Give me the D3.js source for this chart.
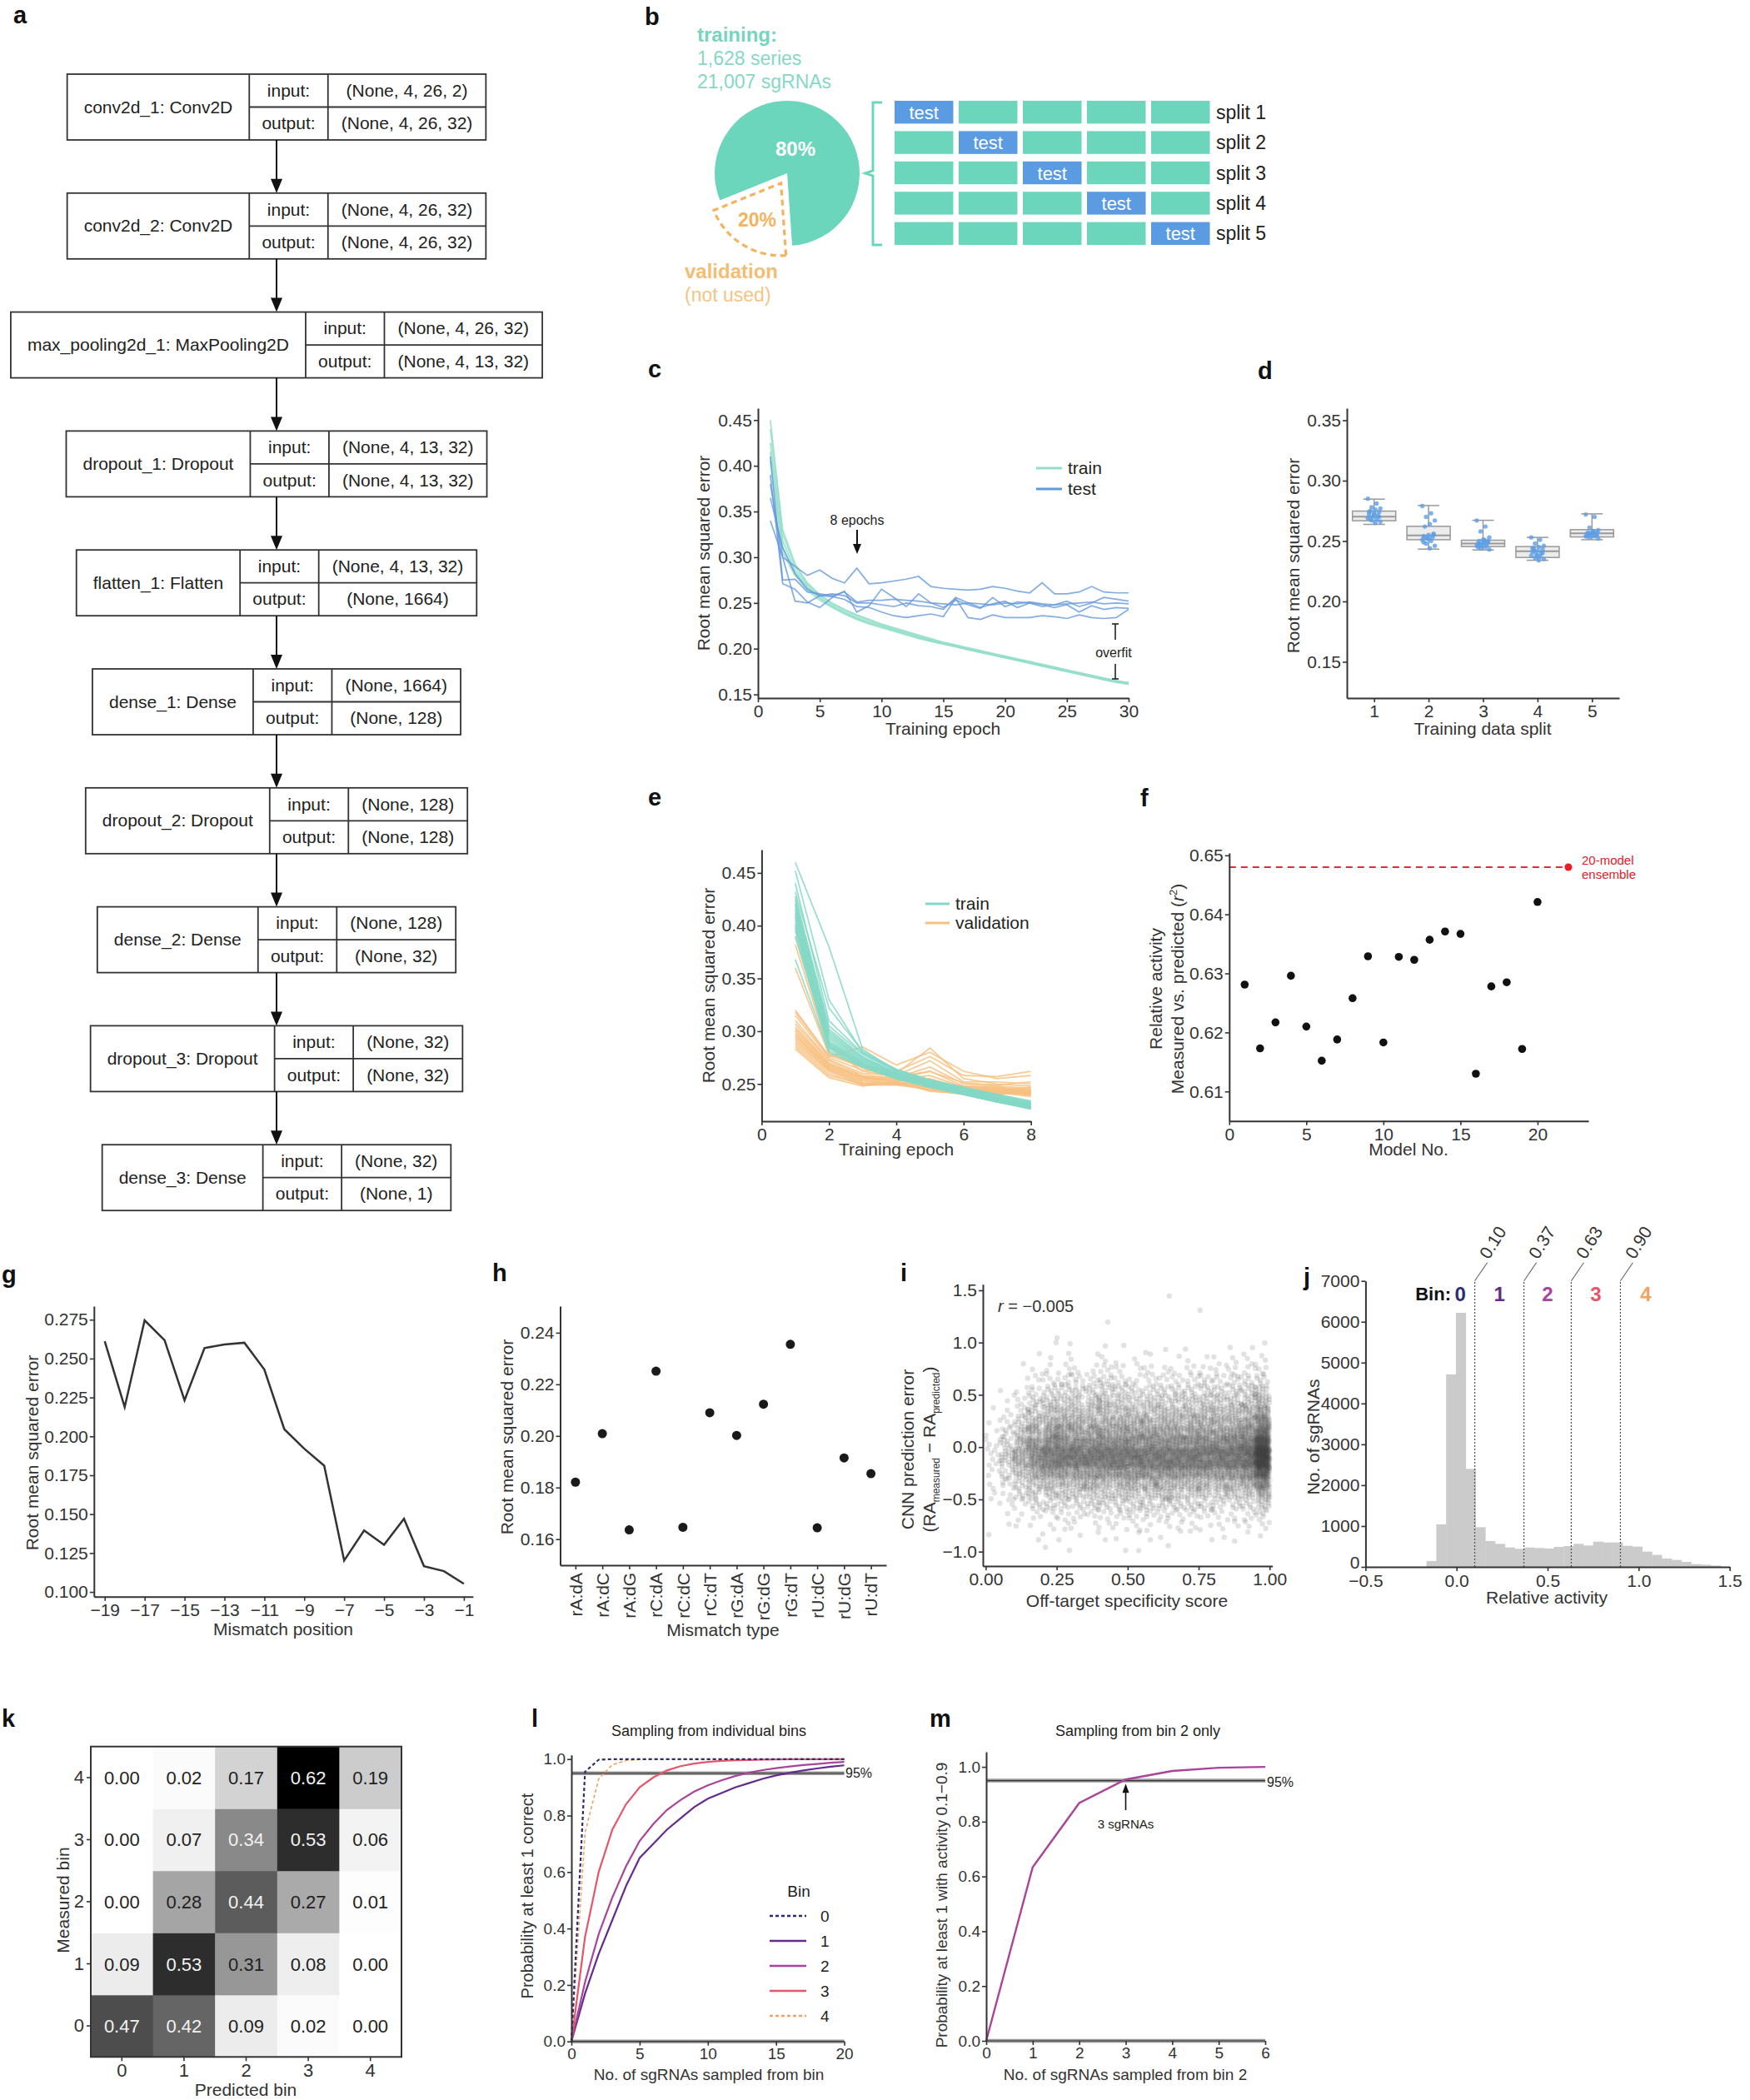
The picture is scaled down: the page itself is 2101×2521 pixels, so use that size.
<!DOCTYPE html>
<html><head><meta charset="utf-8">
<script src="https://cdn.jsdelivr.net/npm/d3@7"></script>
<style>body{margin:0;background:#fff}svg{display:block}</style>
</head><body>
<svg id="fig" width="2101" height="2521"></svg>
<script>
// ================= DATA =================
// a: network layers
const aLayers = ['conv2d_1: Conv2D','conv2d_2: Conv2D','max_pooling2d_1: MaxPooling2D','dropout_1: Dropout','flatten_1: Flatten','dense_1: Dense','dropout_2: Dropout','dense_2: Dense','dropout_3: Dropout','dense_3: Dense'];
const aInputs = ['(None, 4, 26, 2)','(None, 4, 26, 32)','(None, 4, 26, 32)','(None, 4, 13, 32)','(None, 4, 13, 32)','(None, 1664)','(None, 128)','(None, 128)','(None, 32)','(None, 32)'];
const aOutputs = ['(None, 4, 26, 32)','(None, 4, 26, 32)','(None, 4, 13, 32)','(None, 4, 13, 32)','(None, 1664)','(None, 128)','(None, 128)','(None, 32)','(None, 32)','(None, 1)'];
// b: data split
const bShares = [80, 20];
const bSplits = ['split 1','split 2','split 3','split 4','split 5'];
const bTestIdx = [0,1,2,3,4];
// c: training curves (5-fold)
const cEpochs = [1,2,3,4,5,6,7,8,9,10,11,12,13,14,15,16,17,18,19,20,21,22,23,24,25,26,27,28,29,30];
const cTrain = [
 [0.450,0.330,0.293,0.272,0.259,0.250,0.243,0.237,0.232,0.227,0.223,0.219,0.215,0.211,0.207,0.204,0.201,0.198,0.195,0.192,0.189,0.186,0.183,0.180,0.177,0.174,0.171,0.168,0.165,0.163],
 [0.440,0.325,0.290,0.270,0.258,0.249,0.242,0.236,0.231,0.226,0.222,0.218,0.214,0.210,0.207,0.204,0.200,0.197,0.194,0.191,0.188,0.185,0.182,0.179,0.176,0.173,0.170,0.167,0.164,0.162],
 [0.425,0.318,0.286,0.268,0.256,0.247,0.240,0.234,0.229,0.225,0.221,0.217,0.213,0.209,0.206,0.203,0.200,0.197,0.194,0.191,0.188,0.185,0.182,0.179,0.176,0.173,0.170,0.167,0.165,0.162],
 [0.415,0.312,0.283,0.266,0.255,0.246,0.239,0.233,0.228,0.224,0.220,0.216,0.212,0.208,0.205,0.202,0.199,0.196,0.193,0.190,0.187,0.184,0.181,0.178,0.175,0.172,0.169,0.166,0.163,0.161],
 [0.405,0.305,0.280,0.264,0.253,0.245,0.238,0.232,0.227,0.223,0.219,0.215,0.211,0.208,0.205,0.202,0.199,0.196,0.193,0.190,0.187,0.184,0.181,0.178,0.175,0.172,0.169,0.166,0.164,0.161]];
const cTest = [
 [0.340,0.300,0.290,0.280,0.286,0.277,0.272,0.288,0.271,0.272,0.274,0.276,0.279,0.268,0.266,0.265,0.264,0.265,0.268,0.266,0.263,0.261,0.272,0.260,0.260,0.262,0.268,0.262,0.261,0.261],
 [0.410,0.275,0.276,0.262,0.260,0.258,0.262,0.251,0.253,0.253,0.254,0.253,0.252,0.250,0.249,0.248,0.250,0.249,0.248,0.250,0.249,0.251,0.249,0.248,0.249,0.250,0.251,0.249,0.250,0.249],
 [0.390,0.271,0.265,0.251,0.245,0.256,0.263,0.240,0.247,0.265,0.256,0.246,0.260,0.250,0.245,0.253,0.248,0.244,0.256,0.246,0.251,0.250,0.246,0.248,0.252,0.246,0.250,0.256,0.254,0.252],
 [0.380,0.300,0.252,0.250,0.258,0.257,0.254,0.246,0.245,0.240,0.236,0.234,0.236,0.238,0.235,0.255,0.234,0.232,0.237,0.234,0.234,0.234,0.236,0.235,0.233,0.237,0.234,0.233,0.234,0.243],
 [0.365,0.310,0.282,0.265,0.258,0.260,0.258,0.250,0.250,0.248,0.246,0.250,0.247,0.246,0.243,0.256,0.250,0.245,0.249,0.252,0.245,0.250,0.248,0.245,0.248,0.240,0.247,0.243,0.245,0.244]];
// d: RMSE per split
const dSplits = [1,2,3,4,5];
const dQ1  = [0.2668,0.2511,0.2454,0.2364,0.2534];
const dMed = [0.2702,0.2546,0.2480,0.2415,0.2564];
const dQ3  = [0.2748,0.2622,0.2507,0.2454,0.2594];
const dLo  = [0.2638,0.2433,0.2426,0.2341,0.2511];
const dHi  = [0.2847,0.2794,0.2672,0.2530,0.2725];
const dPoints = [
 [0.285,0.281,0.278,0.277,0.276,0.275,0.274,0.273,0.272,0.271,0.270,0.269,0.268,0.267,0.266,0.265,0.268,0.270,0.272,0.274],
 [0.279,0.273,0.270,0.267,0.264,0.262,0.256,0.255,0.254,0.253,0.252,0.251,0.250,0.248,0.246,0.244,0.253,0.255,0.252,0.249],
 [0.267,0.262,0.258,0.253,0.251,0.250,0.249,0.248,0.248,0.247,0.246,0.246,0.245,0.244,0.243,0.249,0.247,0.250,0.251,0.245],
 [0.253,0.251,0.248,0.246,0.245,0.244,0.243,0.242,0.241,0.240,0.239,0.238,0.237,0.236,0.235,0.234,0.242,0.240,0.238,0.244],
 [0.272,0.270,0.261,0.259,0.258,0.257,0.257,0.256,0.256,0.255,0.255,0.254,0.254,0.253,0.252,0.258,0.256,0.255,0.257,0.254]];
// e: 20 models, 8 epochs
const eEpochs = [1,2,3,4,5,6,7,8];
const eTrain = [
 [0.460,0.380,0.283,0.262,0.253,0.246,0.239,0.232],[0.452,0.330,0.280,0.263,0.254,0.246,0.240,0.233],
 [0.432,0.322,0.281,0.264,0.254,0.247,0.240,0.234],[0.428,0.305,0.278,0.262,0.252,0.245,0.238,0.231],
 [0.425,0.302,0.276,0.261,0.252,0.245,0.238,0.230],[0.422,0.300,0.275,0.260,0.251,0.244,0.237,0.230],
 [0.420,0.298,0.274,0.260,0.251,0.244,0.237,0.231],[0.418,0.296,0.273,0.259,0.250,0.243,0.236,0.229],
 [0.415,0.294,0.272,0.259,0.250,0.243,0.236,0.229],[0.412,0.292,0.271,0.258,0.250,0.243,0.236,0.228],
 [0.410,0.290,0.270,0.258,0.249,0.242,0.235,0.229],[0.408,0.289,0.270,0.257,0.249,0.242,0.235,0.228],
 [0.405,0.288,0.269,0.257,0.249,0.242,0.235,0.229],[0.402,0.287,0.268,0.256,0.248,0.241,0.234,0.227],
 [0.400,0.286,0.268,0.256,0.248,0.241,0.234,0.228],[0.398,0.285,0.267,0.256,0.248,0.241,0.234,0.227],
 [0.395,0.284,0.267,0.255,0.247,0.240,0.233,0.227],[0.390,0.282,0.266,0.255,0.247,0.240,0.233,0.226],
 [0.368,0.280,0.266,0.255,0.247,0.240,0.233,0.227],[0.440,0.310,0.279,0.263,0.253,0.246,0.239,0.232]];
const eVal = [
 [0.390,0.285,0.262,0.258,0.250,0.246,0.244,0.242],[0.382,0.280,0.265,0.255,0.252,0.248,0.246,0.244],
 [0.360,0.278,0.268,0.260,0.284,0.255,0.250,0.248],[0.320,0.276,0.285,0.268,0.280,0.262,0.255,0.258],
 [0.315,0.275,0.263,0.262,0.276,0.258,0.257,0.262],[0.310,0.273,0.260,0.258,0.272,0.252,0.252,0.250],
 [0.307,0.272,0.258,0.256,0.266,0.250,0.248,0.246],[0.304,0.270,0.257,0.255,0.262,0.248,0.247,0.244],
 [0.302,0.269,0.256,0.254,0.258,0.247,0.246,0.243],[0.300,0.268,0.256,0.253,0.255,0.246,0.245,0.242],
 [0.298,0.267,0.255,0.253,0.252,0.245,0.244,0.241],[0.296,0.266,0.254,0.252,0.250,0.244,0.243,0.240],
 [0.295,0.265,0.253,0.251,0.249,0.244,0.242,0.241],[0.293,0.264,0.252,0.251,0.248,0.243,0.244,0.239],
 [0.291,0.263,0.251,0.250,0.247,0.242,0.241,0.240],[0.289,0.262,0.250,0.250,0.246,0.242,0.242,0.238],
 [0.287,0.260,0.249,0.249,0.245,0.241,0.240,0.243],[0.285,0.258,0.250,0.251,0.244,0.240,0.241,0.245],
 [0.283,0.256,0.248,0.252,0.243,0.241,0.243,0.247],[0.318,0.277,0.266,0.257,0.262,0.251,0.249,0.252]];
// f: per-model r^2
const fModels = [1,2,3,4,5,6,7,8,9,10,11,12,13,14,15,16,17,18,19,20];
const fR2 = [0.6281,0.6173,0.6217,0.6296,0.6210,0.6152,0.6188,0.6258,0.6329,0.6183,0.6328,0.6323,0.6357,0.6371,0.6367,0.6130,0.6278,0.6285,0.6172,0.6421];
const fEnsemble = {model: 22, r2: 0.648};
// g: RMSE by mismatch position
const gPos = [-19,-18,-17,-16,-15,-14,-13,-12,-11,-10,-9,-8,-7,-6,-5,-4,-3,-2,-1];
const gRmse = [0.2612,0.2188,0.2746,0.2618,0.2232,0.2568,0.2591,0.2602,0.2430,0.2046,0.1921,0.1812,0.1202,0.1395,0.1303,0.1470,0.1166,0.1134,0.1053];
const gTicks = [-19,-17,-15,-13,-11,-9,-7,-5,-3,-1];
// h: RMSE by mismatch type
const hTypes = ['rA:dA','rA:dC','rA:dG','rC:dA','rC:dC','rC:dT','rG:dA','rG:dG','rG:dT','rU:dC','rU:dG','rU:dT'];
const hRmse = [0.1821,0.2009,0.1636,0.2251,0.1646,0.2090,0.2002,0.2123,0.2355,0.1644,0.1915,0.1854];
// i: density of points (columns: specificity 0-1 in 0.05 bins; rows: error 1.5 down to -1.1 in 0.1 bins)
const iXBin = {start: 0, step: 0.05};
const iYBin = {top: 1.5, step: 0.1};
const iDensity = [
 [0,0,0,0,0,0,0,0,0,0,0,1,1,2,3,4,4,3,2,2,1,0,0,1,0,0],
 [0,0,0,0,0,0,0,0,0,1,1,2,4,6,9,11,10,8,5,3,2,1,1,0,0,0],
 [0,0,0,0,0,0,0,1,1,2,4,6,9,13,18,22,20,14,9,6,3,2,1,0,0,0],
 [0,0,0,0,0,0,1,1,3,5,8,11,15,20,27,34,32,22,14,11,7,3,1,1,0,0],
 [0,0,0,0,0,1,1,2,4,7,10,14,19,25,33,42,40,27,16,12,8,3,2,1,1,0],
 [0,0,0,0,1,1,1,3,5,8,11,15,20,26,34,44,42,28,17,11,7,4,2,1,1,0],
 [0,0,0,0,0,0,1,3,5,8,11,15,20,26,34,44,42,28,17,11,7,4,2,1,0,0],
 [0,0,0,0,0,0,1,2,5,9,12,15,19,25,33,44,43,29,18,12,8,4,2,1,0,0],
 [0,0,0,1,0,1,2,4,7,10,13,16,20,26,34,44,43,29,17,12,8,4,2,1,0,0],
 [0,0,0,0,0,1,1,3,5,8,11,15,20,26,34,45,43,29,18,12,8,5,2,1,1,0],
 [0,0,0,0,0,0,1,2,4,7,10,14,19,25,33,44,43,30,19,13,9,5,3,1,1,0],
 [0,0,0,0,0,1,1,3,4,7,10,14,19,25,33,44,43,30,19,13,9,5,2,1,0,0],
 [1,0,0,0,0,1,0,2,4,7,10,14,19,25,33,44,44,30,19,13,9,5,3,1,1,0],
 [0,0,0,0,0,0,1,2,4,7,10,14,19,25,33,44,44,30,19,12,8,4,2,1,0,0],
 [0,0,0,0,0,1,1,3,5,8,11,14,19,25,33,44,43,29,18,12,8,4,2,1,0,0],
 [0,1,0,0,0,0,1,3,5,8,11,15,19,25,34,45,43,28,17,11,7,4,2,1,0,0],
 [0,0,0,0,0,0,1,3,5,8,11,15,20,26,35,46,44,28,17,11,7,3,2,1,0,0],
 [0,0,0,0,0,1,2,3,6,9,12,16,21,28,37,48,46,30,18,12,7,3,2,1,0,0],
 [0,0,0,0,0,1,2,4,6,10,13,18,24,32,42,55,52,34,20,13,8,4,2,1,0,0],
 [0,0,0,0,0,1,2,4,7,12,18,26,38,55,85,120,110,70,40,22,12,6,3,1,0,0]];
// j: histogram of relative activity
const jRange = [-0.165, 1.45];
const jCounts = [143,1040,4710,6218,2399,972,632,564,476,442,476,462,449,490,510,564,523,618,598,598,516,496,374,292,204,170,122,68,54,34];
const jCuts = [0.10,0.37,0.63,0.90];
const jCutLabels = ['0.10','0.37','0.63','0.90'];
const jBins = ['0','1','2','3','4'];
const binColors = ['#2e2c72','#642c8e','#a8449a','#e4566c','#f2a263'];
// k: confusion matrix (rows measured 4..0, cols predicted 0..4)
const kBins = [0,1,2,3,4];
const kMatrix = {
 4:[0.00,0.02,0.17,0.62,0.19],
 3:[0.00,0.07,0.34,0.53,0.06],
 2:[0.00,0.28,0.44,0.27,0.01],
 1:[0.09,0.53,0.31,0.08,0.00],
 0:[0.47,0.42,0.09,0.02,0.00]};
// l: probability at least 1 correct
const lN = [0,1,2,3,4,5,6,7,8,9,10,11,12,13,14,15,16,17,18,19,20];
const lBin0 = [0,0.955,0.998,1,1,1,1,1,1,1,1,1,1,1,1,1,1,1,1,1,1];
const lBin1 = [0,0.17,0.31,0.43,0.55,0.65,0.70,0.75,0.79,0.83,0.86,0.88,0.90,0.915,0.93,0.942,0.952,0.96,0.967,0.973,0.978];
const lBin2 = [0,0.21,0.38,0.51,0.62,0.71,0.77,0.82,0.855,0.885,0.907,0.925,0.94,0.952,0.961,0.968,0.974,0.979,0.983,0.987,0.99];
const lBin3 = [0,0.37,0.60,0.75,0.84,0.90,0.935,0.96,0.975,0.984,0.99,0.994,0.996,0.997,0.998,0.999,1,1,1,1,1];
const lBin4 = [0,0.74,0.93,0.98,0.995,0.999,1,1,1,1,1,1,1,1,1,1,1,1,1,1,1];
// m: sampling from bin 2
const mN = [0,1,2,3,4,5,6];
const mProb = [0,0.634,0.868,0.954,0.985,0.997,1.0];

// ================= DRAWING =================
const F = "'Liberation Sans', Arial, Helvetica, sans-serif";
const svg = d3.select('#fig').attr('font-family', F);
svg.append('rect').attr('width',2101).attr('height',2521).attr('fill','#fff');

function txt(g, x, y, s, o = {}) {
  const t = g.append('text').attr('x', x).attr('y', y).text(s)
    .attr('font-size', o.size || 20).attr('fill', o.fill || '#333')
    .attr('text-anchor', o.anchor || 'start');
  if (o.weight) t.attr('font-weight', o.weight);
  if (o.style) t.attr('font-style', o.style);
  if (o.rotate != null) t.attr('transform', `rotate(${o.rotate},${x},${y})`);
  return t;
}
function styleAxis(g, fs = 20, col = '#333', w = 2) {
  g.select('.domain').attr('stroke', col).attr('stroke-width', w);
  g.selectAll('.tick line').attr('stroke', '#333').attr('stroke-width', 1.6);
  g.selectAll('.tick text').attr('fill', '#333').attr('font-size', fs).attr('font-family', F);
}
function measure(s, size) {
  const t = svg.append('text').attr('font-size', size).attr('font-family', F).text(s);
  const w = t.node().getComputedTextLength(); t.remove(); return w;
}
function arrowDown(g, x, y1, y2, col = '#111', hw = 6, hl = 14) {
  g.append('line').attr('x1', x).attr('x2', x).attr('y1', y1).attr('y2', y2 - hl + 2).attr('stroke', col).attr('stroke-width', 2);
  g.append('path').attr('d', `M${x - hw},${y2 - hl}L${x + hw},${y2 - hl}L${x},${y2}Z`).attr('fill', col);
}
function arrowUp(g, x, y1, y2, col = '#111', hw = 5, hl = 12) {
  g.append('line').attr('x1', x).attr('x2', x).attr('y1', y1).attr('y2', y2 + hl - 2).attr('stroke', col).attr('stroke-width', 1.6);
  g.append('path').attr('d', `M${x - hw},${y2 + hl}L${x + hw},${y2 + hl}L${x},${y2}Z`).attr('fill', col);
}
// deterministic in-cell layout offset (not data)
function cellOffset(c, r) { const s = Math.sin(c * 12.9898 + r * 78.233) * 43758.5453; return s - Math.floor(s); }

// panel letters
[['a',16,28],['b',774,30],['c',778,453],['d',1510,455],['e',778,967],['f',1369,968],
 ['g',2,1540],['h',591,1538],['i',1081,1538],['j',1565,1543],['k',2,2073],['l',638,2073],['m',1116,2073]]
 .forEach(([s,x,y]) => txt(svg, x, y, s, {size: 29, weight: 'bold', fill: '#111'}));

// ----- Panel a -----
(function(){
  const g = svg.append('g');
  const top = d3.scalePoint().domain(d3.range(aLayers.length)).range([89, 89 + 9 * 142.8]);
  const cx = 332, H = 79, inW = 94.5, fs = 21;
  aLayers.forEach((name, i) => {
    const lw = measure(name, fs) + 40;
    const vw = Math.max(measure(aInputs[i], fs), measure(aOutputs[i], fs)) + 32;
    const W = lw + inW + vw, x0 = cx - W / 2, y0 = top(i);
    g.append('rect').attr('x', x0).attr('y', y0).attr('width', W).attr('height', H)
      .attr('fill', 'none').attr('stroke', '#333').attr('stroke-width', 1.8);
    [x0 + lw, x0 + lw + inW].forEach(x => g.append('line').attr('x1', x).attr('x2', x).attr('y1', y0).attr('y2', y0 + H).attr('stroke', '#333').attr('stroke-width', 1.8));
    g.append('line').attr('x1', x0 + lw).attr('x2', x0 + W).attr('y1', y0 + H / 2).attr('y2', y0 + H / 2).attr('stroke', '#333').attr('stroke-width', 1.8);
    txt(g, x0 + lw / 2, y0 + H / 2 + 7, name, {size: fs, anchor: 'middle', fill: '#222'});
    txt(g, x0 + lw + inW / 2, y0 + H / 4 + 7, 'input:', {size: fs, anchor: 'middle', fill: '#222'});
    txt(g, x0 + lw + inW / 2, y0 + 3 * H / 4 + 7, 'output:', {size: fs, anchor: 'middle', fill: '#222'});
    txt(g, x0 + lw + inW + vw / 2, y0 + H / 4 + 7, aInputs[i], {size: fs, anchor: 'middle', fill: '#222'});
    txt(g, x0 + lw + inW + vw / 2, y0 + 3 * H / 4 + 7, aOutputs[i], {size: fs, anchor: 'middle', fill: '#222'});
    if (i < aLayers.length - 1) arrowDown(g, cx, y0 + H, top(i + 1), '#111', 7, 17);
  });
})();

// ----- Panel b -----
(function(){
  const g = svg.append('g');
  const teal = '#6cd6bd', blue = '#5b9be2', orange = '#f5b35e';
  txt(g, 837, 50, 'training:', {size: 24, weight: 'bold', fill: '#78d4bd'});
  txt(g, 837, 78, '1,628 series', {size: 23, fill: '#86d8c5'});
  txt(g, 837, 106, '21,007 sgRNAs', {size: 23, fill: '#86d8c5'});
  const a0 = 248 * Math.PI / 180;
  const pie = d3.pie().sort(null).startAngle(a0).endAngle(a0 + 2 * Math.PI)(bShares);
  const arc = d3.arc().innerRadius(0).outerRadius(87);
  g.append('path').attr('transform', 'translate(945,208)').attr('d', arc(pie[0])).attr('fill', teal);
  const mid = (pie[1].startAngle + pie[1].endAngle) / 2, off = 14;
  g.append('path').attr('transform', `translate(${945 + off * Math.sin(mid)},${208 - off * Math.cos(mid)})`)
    .attr('d', arc(pie[1])).attr('fill', 'none').attr('stroke', orange).attr('stroke-width', 3.2).attr('stroke-dasharray', '7,5');
  txt(g, 955, 187, bShares[0] + '%', {size: 24, weight: 'bold', fill: '#fff', anchor: 'middle'});
  txt(g, 909, 272, bShares[1] + '%', {size: 23, weight: 'bold', fill: orange, anchor: 'middle'});
  txt(g, 822, 334, 'validation', {size: 24, weight: 'bold', fill: '#f3bd74'});
  txt(g, 822, 362, '(not used)', {size: 23, fill: '#f3c584'});
  g.append('path').attr('d', 'M1059,123 L1048,123 L1048,205 L1039,208 L1048,211 L1048,294 L1059,294')
    .attr('fill', 'none').attr('stroke', teal).attr('stroke-width', 3);
  const col = d3.scaleBand().domain(d3.range(5)).range([1074, 1452.5]).paddingInner(0.0845);
  const row = d3.scaleBand().domain(d3.range(5)).range([121, 294]).paddingInner(0.247);
  bSplits.forEach((s, r) => {
    d3.range(5).forEach(c => {
      const isTest = c === bTestIdx[r];
      g.append('rect').attr('x', col(c)).attr('y', row(r)).attr('width', col.bandwidth()).attr('height', row.bandwidth())
        .attr('fill', isTest ? blue : teal);
      if (isTest) txt(g, col(c) + col.bandwidth() / 2, row(r) + row.bandwidth() / 2 + 8, 'test', {size: 22, fill: '#fff', anchor: 'middle'});
    });
    txt(g, 1460, row(r) + row.bandwidth() / 2 + 8, s, {size: 23, fill: '#222'});
  });
})();

// ----- Panel c -----
(function(){
  const g = svg.append('g');
  const x = d3.scaleLinear().domain([0, 30]).range([910, 1355]);
  const y = d3.scaleLinear().domain([0.146, 0.463]).range([838, 490]);
  const line = d3.line().x((d, i) => x(cEpochs[i])).y(d => y(d));
  cTrain.forEach(s => g.append('path').attr('d', line(s)).attr('fill', 'none').attr('stroke', '#93dec9').attr('stroke-width', 1.7).attr('opacity', 0.85));
  cTest.forEach(s => g.append('path').attr('d', line(s)).attr('fill', 'none').attr('stroke', '#6499dc').attr('stroke-width', 1.7).attr('opacity', 0.8));
  g.append('g').attr('transform', 'translate(0,838)').call(d3.axisBottom(x).tickValues([0,5,10,15,20,25,30]).tickSize(5).tickPadding(3).tickSizeOuter(0)).call(styleAxis, 21);
  g.append('g').attr('transform', 'translate(910,0)').call(d3.axisLeft(y).tickValues([0.15,0.2,0.25,0.3,0.35,0.4,0.45]).tickFormat(d3.format('.2f')).tickSize(5).tickPadding(2).tickSizeOuter(0)).call(styleAxis, 21);
  txt(g, 852, 664, 'Root mean squared error', {size: 21, anchor: 'middle', rotate: -90});
  txt(g, 1132, 882, 'Training epoch', {size: 21, anchor: 'middle'});
  [['train', '#93dec9', 562], ['test', '#6499dc', 587]].forEach(([s, c, yy]) => {
    g.append('line').attr('x1', 1244).attr('x2', 1275).attr('y1', yy).attr('y2', yy).attr('stroke', c).attr('stroke-width', 3);
    txt(g, 1282, yy + 7, s, {size: 21, fill: '#222'});
  });
  txt(g, 1029, 630, '8 epochs', {size: 16, anchor: 'middle', fill: '#222'});
  arrowDown(g, 1029, 636, 665, '#111', 5, 12);
  txt(g, 1337, 789, 'overfit', {size: 16, anchor: 'middle', fill: '#222'});
  const bx = 1339;
  [[749, 768], [797, 815]].forEach(([a, b]) => g.append('line').attr('x1', bx).attr('x2', bx).attr('y1', a).attr('y2', b).attr('stroke', '#222').attr('stroke-width', 1.6));
  [749, 815].forEach(v => g.append('line').attr('x1', bx - 4).attr('x2', bx + 4).attr('y1', v).attr('y2', v).attr('stroke', '#222').attr('stroke-width', 1.6));
})();

// ----- Panel d -----
(function(){
  const g = svg.append('g');
  const x = d3.scaleLinear().domain([0.5, 5.5]).range([1617, 1944]);
  const y = d3.scaleLinear().domain([0.12, 0.36]).range([838, 490]);
  const bw = 52, cw = 26;
  dSplits.forEach((s, i) => {
    const cx = x(s);
    g.append('line').attr('x1', cx).attr('x2', cx).attr('y1', y(dHi[i])).attr('y2', y(dQ3[i])).attr('stroke', '#999').attr('stroke-width', 1.5);
    g.append('line').attr('x1', cx).attr('x2', cx).attr('y1', y(dQ1[i])).attr('y2', y(dLo[i])).attr('stroke', '#999').attr('stroke-width', 1.5);
    [dHi[i], dLo[i]].forEach(v => g.append('line').attr('x1', cx - cw / 2).attr('x2', cx + cw / 2).attr('y1', y(v)).attr('y2', y(v)).attr('stroke', '#999').attr('stroke-width', 1.5));
    g.append('rect').attr('x', cx - bw / 2).attr('y', y(dQ3[i])).attr('width', bw).attr('height', y(dQ1[i]) - y(dQ3[i]))
      .attr('fill', '#ececec').attr('stroke', '#999').attr('stroke-width', 1.5);
    g.append('line').attr('x1', cx - bw / 2).attr('x2', cx + bw / 2).attr('y1', y(dMed[i])).attr('y2', y(dMed[i])).attr('stroke', '#999').attr('stroke-width', 2);
    dPoints[i].forEach((v, k) => {
      const jit = (((k * 7) % 11) - 5) * 1.5;
      g.append('circle').attr('cx', cx + jit).attr('cy', y(v)).attr('r', 2.7).attr('fill', '#5d9fe6').attr('opacity', 0.8);
    });
  });
  g.append('g').attr('transform', 'translate(0,838)').call(d3.axisBottom(x).tickValues(dSplits).tickFormat(d3.format('d')).tickSize(5).tickPadding(3).tickSizeOuter(0)).call(styleAxis, 21);
  g.append('g').attr('transform', 'translate(1617,0)').call(d3.axisLeft(y).tickValues([0.15,0.2,0.25,0.3,0.35]).tickFormat(d3.format('.2f')).tickSize(5).tickPadding(2).tickSizeOuter(0)).call(styleAxis, 21);
  txt(g, 1560, 667, 'Root mean squared error', {size: 21, anchor: 'middle', rotate: -90});
  txt(g, 1780, 882, 'Training data split', {size: 21, anchor: 'middle'});
})();

// ----- Panel e -----
(function(){
  const g = svg.append('g');
  const x = d3.scaleLinear().domain([0, 8]).range([914.4, 1237.7]);
  const y = d3.scaleLinear().domain([0.2147, 0.472]).range([1346, 1020]);
  const line = d3.line().x((d, i) => x(eEpochs[i])).y(d => y(d));
  eVal.forEach(s => g.append('path').attr('d', line(s)).attr('fill', 'none').attr('stroke', '#f7c07f').attr('stroke-width', 1.7).attr('opacity', 0.85));
  eTrain.forEach(s => g.append('path').attr('d', line(s)).attr('fill', 'none').attr('stroke', '#84d8c6').attr('stroke-width', 1.7).attr('opacity', 0.85));
  g.append('g').attr('transform', 'translate(0,1346)').call(d3.axisBottom(x).tickValues([0,2,4,6,8]).tickSize(5).tickPadding(3).tickSizeOuter(0)).call(styleAxis, 21);
  g.append('g').attr('transform', 'translate(914.4,0)').call(d3.axisLeft(y).tickValues([0.25,0.3,0.35,0.4,0.45]).tickFormat(d3.format('.2f')).tickSize(5).tickPadding(2).tickSizeOuter(0)).call(styleAxis, 21);
  txt(g, 858, 1183, 'Root mean squared error', {size: 21, anchor: 'middle', rotate: -90});
  txt(g, 1076, 1387, 'Training epoch', {size: 21, anchor: 'middle'});
  [['train', '#84d8c6', 1085], ['validation', '#f7c07f', 1108]].forEach(([s, c, yy]) => {
    g.append('line').attr('x1', 1111).attr('x2', 1140).attr('y1', yy).attr('y2', yy).attr('stroke', c).attr('stroke-width', 3);
    txt(g, 1147, yy + 7, s, {size: 21, fill: '#222'});
  });
})();

// ----- Panel f -----
(function(){
  const g = svg.append('g');
  const x = d3.scaleLinear().domain([0, 23.3]).range([1475.8, 1907]);
  const y = d3.scaleLinear().domain([0.605, 0.6504]).range([1345.7, 1024]);
  g.append('line').attr('x1', x(0)).attr('x2', x(fEnsemble.model)).attr('y1', y(fEnsemble.r2)).attr('y2', y(fEnsemble.r2))
    .attr('stroke', '#d9303a').attr('stroke-width', 2).attr('stroke-dasharray', '8,6');
  g.append('circle').attr('cx', x(fEnsemble.model)).attr('cy', y(fEnsemble.r2)).attr('r', 4.5).attr('fill', '#ee1c25');
  txt(g, 1899, 1038, '20-model', {size: 15, fill: '#e0202a'});
  txt(g, 1899, 1055, 'ensemble', {size: 15, fill: '#e0202a'});
  fModels.forEach((m, i) => g.append('circle').attr('cx', x(m)).attr('cy', y(fR2[i])).attr('r', 4.8).attr('fill', '#111'));
  g.append('g').attr('transform', 'translate(0,1345.7)').call(d3.axisBottom(x).tickValues([0,5,10,15,20]).tickSize(5).tickPadding(3).tickSizeOuter(0)).call(styleAxis, 21);
  g.append('g').attr('transform', 'translate(1475.8,0)').call(d3.axisLeft(y).tickValues([0.61,0.62,0.63,0.64,0.65]).tickFormat(d3.format('.2f')).tickSize(5).tickPadding(2).tickSizeOuter(0)).call(styleAxis, 21);
  txt(g, 1395, 1187, 'Relative activity', {size: 21, anchor: 'middle', rotate: -90});
  const t = txt(g, 1421, 1187, 'Measured vs. predicted (', {size: 21, anchor: 'middle', rotate: -90});
  t.append('tspan').attr('font-style', 'italic').text('r');
  t.append('tspan').attr('font-size', 13).attr('dy', -8).text('2');
  t.append('tspan').attr('dy', 8).text(')');
  txt(g, 1691, 1387, 'Model No.', {size: 21, anchor: 'middle'});
})();

// ----- Panel g -----
(function(){
  const g = svg.append('g');
  const x = d3.scaleLinear().domain([-19.54, -0.54]).range([112.8, 567.9]);
  const y = d3.scaleLinear().domain([0.097, 0.2837]).range([1916.7, 1568]);
  g.append('path').attr('d', d3.line().x((d, i) => x(gPos[i])).y(d => y(d))(gRmse)).attr('fill', 'none').attr('stroke', '#333').attr('stroke-width', 2.5);
  g.append('g').attr('transform', 'translate(0,1916.7)').call(d3.axisBottom(x).tickValues(gTicks).tickFormat(d3.format('d')).tickSize(5).tickPadding(3).tickSizeOuter(0)).call(styleAxis, 21);
  g.append('g').attr('transform', 'translate(112.8,0)').call(d3.axisLeft(y).tickValues([0.1,0.125,0.15,0.175,0.2,0.225,0.25,0.275]).tickFormat(d3.format('.3f')).tickSize(5).tickPadding(2).tickSizeOuter(0)).call(styleAxis, 21);
  txt(g, 46, 1744, 'Root mean squared error', {size: 21, anchor: 'middle', rotate: -90});
  txt(g, 340, 1963, 'Mismatch position', {size: 21, anchor: 'middle'});
})();

// ----- Panel h -----
(function(){
  const g = svg.append('g');
  const x = d3.scalePoint().domain(hTypes).range([672.5, 1064]).padding(0.57);
  const y = d3.scaleLinear().domain([0.1499, 0.2503]).range([1879, 1568]);
  hTypes.forEach((t, i) => g.append('circle').attr('cx', x(t)).attr('cy', y(hRmse[i])).attr('r', 5.5).attr('fill', '#1a1a1a'));
  const ax = g.append('g').attr('transform', 'translate(0,1879)').call(d3.axisBottom(x).tickSize(5).tickSizeOuter(0)).call(styleAxis, 21);
  ax.selectAll('.tick text').attr('transform', 'rotate(-90)').attr('text-anchor', 'end').attr('x', -9).attr('y', 0).attr('dy', '0.35em');
  g.append('g').attr('transform', 'translate(672.5,0)').call(d3.axisLeft(y).tickValues([0.16,0.18,0.2,0.22,0.24]).tickFormat(d3.format('.2f')).tickSize(5).tickPadding(2).tickSizeOuter(0)).call(styleAxis, 21);
  txt(g, 616, 1725, 'Root mean squared error', {size: 21, anchor: 'middle', rotate: -90});
  txt(g, 868, 1964, 'Mismatch type', {size: 21, anchor: 'middle'});
})();

// ----- Panel i -----
(function(){
  const g = svg.append('g');
  const x = d3.scaleLinear().domain([-0.01, 1.01]).range([1180, 1527.7]);
  const y = d3.scaleLinear().domain([-1.138, 1.558]).range([1880, 1541.7]);
  const pts = g.append('g');
  iDensity.forEach((col, c) => col.forEach((n, r) => {
    const o1 = cellOffset(c, r), o2 = cellOffset(r + 31, c + 7);
    for (let k = 0; k < n; k++) {
      const u = (o1 + (k + 1) * 0.7548777) % 1;
      const v = (o2 + (k + 1) * 0.5698403) % 1;
      const vx = iXBin.start + (c + u) * iXBin.step;
      const vy = iYBin.top - (r + v) * iYBin.step;
      pts.append('circle').attr('cx', x(vx)).attr('cy', y(vy)).attr('r', 3.2).attr('fill', '#3a3a3a').attr('fill-opacity', 0.15);
    }
  }));
  g.append('g').attr('transform', 'translate(0,1880)').call(d3.axisBottom(x).tickValues([0,0.25,0.5,0.75,1]).tickFormat(d3.format('.2f')).tickSize(5).tickPadding(3).tickSizeOuter(0)).call(styleAxis, 21);
  g.append('g').attr('transform', 'translate(1180,0)').call(d3.axisLeft(y).tickValues([-1,-0.5,0,0.5,1,1.5]).tickFormat(d3.format('.1f')).tickSize(5).tickPadding(2).tickSizeOuter(0)).call(styleAxis, 21);
  const r = txt(g, 1198, 1575, '', {size: 20});
  r.append('tspan').attr('font-style', 'italic').text('r');
  r.append('tspan').text(' = \u22120.005');
  txt(g, 1097, 1740, 'CNN prediction error', {size: 21, anchor: 'middle', rotate: -90});
  const t = txt(g, 1123, 1740, '(RA', {size: 21, anchor: 'middle', rotate: -90});
  t.append('tspan').attr('font-size', 12).attr('dy', 5).text('measured');
  t.append('tspan').attr('dy', -5).text(' \u2212 RA');
  t.append('tspan').attr('font-size', 12).attr('dy', 5).text('predicted');
  t.append('tspan').attr('dy', -5).text(')');
  txt(g, 1353, 1929, 'Off-target specificity score', {size: 21, anchor: 'middle'});
})();

// ----- Panel j -----
(function(){
  const g = svg.append('g');
  const x = d3.scaleLinear().domain([-0.5, 1.5]).range([1639.4, 2076.6]);
  const y = d3.scaleLinear().domain([0, 7000]).range([1881, 1537.7]);
  const w = (jRange[1] - jRange[0]) / jCounts.length;
  jCounts.forEach((n, i) => {
    const lo = jRange[0] + i * w;
    g.append('rect').attr('x', x(lo)).attr('y', y(n)).attr('width', x(lo + w) - x(lo) + 0.4).attr('height', y(0) - y(n)).attr('fill', '#cbcbcb');
  });
  jCuts.forEach((c, i) => {
    const cx = x(c), ty = y(7000);
    g.append('line').attr('x1', cx).attr('x2', cx).attr('y1', y(0)).attr('y2', ty).attr('stroke', '#555').attr('stroke-width', 1.3).attr('stroke-dasharray', '2,2');
    g.append('line').attr('x1', cx).attr('x2', cx + 15).attr('y1', ty).attr('y2', ty - 22).attr('stroke', '#666').attr('stroke-width', 1.1);
    txt(g, cx + 17, ty - 25, jCutLabels[i], {size: 21, rotate: -58, fill: '#333'});
  });
  txt(g, 1742, 1561, 'Bin:', {size: 22, weight: 'bold', fill: '#111', anchor: 'end'});
  const labX = [jCuts[0] - 0.08, (jCuts[0] + jCuts[1]) / 2, (jCuts[1] + jCuts[2]) / 2, (jCuts[2] + jCuts[3]) / 2, jCuts[3] + 0.14];
  jBins.forEach((b, i) => txt(g, x(labX[i]), 1562, b, {size: 24, weight: 'bold', fill: binColors[i], anchor: 'middle'}));
  g.append('g').attr('transform', 'translate(0,1881)').call(d3.axisBottom(x).tickValues([-0.5,0,0.5,1,1.5]).tickFormat(d3.format('.1f')).tickSize(5).tickPadding(4).tickSizeOuter(0)).call(styleAxis, 21);
  const ay = g.append('g').attr('transform', 'translate(1639.4,0)').call(d3.axisLeft(y).tickValues([0,1000,2000,3000,4000,5000,6000,7000]).tickFormat(d3.format('d')).tickSize(5).tickPadding(2).tickSizeOuter(0)).call(styleAxis, 21);
  ay.selectAll('.tick text').filter(d => d === 0).attr('dy', '0.05em');
  txt(g, 1584, 1725, 'No. of sgRNAs', {size: 21, anchor: 'middle', rotate: -90});
  txt(g, 1857, 1925, 'Relative activity', {size: 21, anchor: 'middle'});
})();

// ----- Panel k -----
(function(){
  const g = svg.append('g');
  const x = d3.scaleBand().domain(kBins).range([109, 482]);
  const y = d3.scaleBand().domain(kBins.slice().reverse()).range([2096.7, 2469.3]);
  const vmax = d3.max(Object.values(kMatrix).flat());
  kBins.forEach(m => kBins.forEach((p, j) => {
    const v = kMatrix[m][j];
    g.append('rect').attr('x', x(p)).attr('y', y(m)).attr('width', x.bandwidth() + 0.5).attr('height', y.bandwidth() + 0.5)
      .attr('fill', d3.interpolateGreys(v / vmax));
    txt(g, x(p) + x.bandwidth() / 2, y(m) + y.bandwidth() / 2 + 8, d3.format('.2f')(v),
      {size: 22, anchor: 'middle', fill: v >= 0.33 ? '#f2f2f2' : '#222'});
  }));
  g.append('rect').attr('x', 109).attr('y', 2096.7).attr('width', 373).attr('height', 372.6).attr('fill', 'none').attr('stroke', '#333').attr('stroke-width', 2);
  const ax = g.append('g').attr('transform', 'translate(0,2469.3)').call(d3.axisBottom(x).tickSize(5).tickPadding(3).tickSizeOuter(0)).call(styleAxis, 22);
  ax.select('.domain').remove();
  const ay = g.append('g').attr('transform', 'translate(109,0)').call(d3.axisLeft(y).tickSize(5).tickPadding(3).tickSizeOuter(0)).call(styleAxis, 22);
  ay.select('.domain').remove();
  txt(g, 83, 2281, 'Measured bin', {size: 21, anchor: 'middle', rotate: -90});
  txt(g, 295, 2516, 'Predicted bin', {size: 21, anchor: 'middle'});
})();

// ----- Panel l -----
(function(){
  const g = svg.append('g');
  const x = d3.scaleLinear().domain([0, 20]).range([686, 1013.6]);
  const y = d3.scaleLinear().domain([0, 1.015]).range([2450.7, 2106.7]);
  const line = d3.line().x((d, i) => x(lN[i])).y(d => y(d));
  [[0.95], [0]].forEach(([v]) => {
    g.append('line').attr('x1', x(0)).attr('x2', x(20)).attr('y1', y(v)).attr('y2', y(v)).attr('stroke', '#999').attr('stroke-width', 4.5);
    g.append('line').attr('x1', x(0)).attr('x2', x(20)).attr('y1', y(v)).attr('y2', y(v)).attr('stroke', '#333').attr('stroke-width', 1.2);
  });
  txt(g, 1015, 2134, '95%', {size: 16, fill: '#222'});
  const series = [[lBin1, 1, null], [lBin2, 2, null], [lBin3, 3, null], [lBin4, 4, '4,3'], [lBin0, 0, '4,3']];
  series.forEach(([s, b, dash]) => {
    const p = g.append('path').attr('d', line(s)).attr('fill', 'none').attr('stroke', binColors[b]).attr('stroke-width', b === 4 ? 1.6 : 2.2);
    if (dash) p.attr('stroke-dasharray', dash);
  });
  const ax = g.append('g').attr('transform', 'translate(0,2450.7)').call(d3.axisBottom(x).tickValues([0,5,10,15,20]).tickSize(5).tickPadding(3).tickSizeOuter(0)).call(styleAxis, 19);
  ax.select('.domain').remove();
  g.append('g').attr('transform', 'translate(686,0)').call(d3.axisLeft(y).tickValues([0,0.2,0.4,0.6,0.8,1]).tickFormat(d3.format('.1f')).tickSize(5).tickPadding(2).tickSizeOuter(0)).call(styleAxis, 19);
  txt(g, 851, 2084, 'Sampling from individual bins', {size: 18, anchor: 'middle', fill: '#222'});
  txt(g, 640, 2276, 'Probability at least 1 correct', {size: 20, anchor: 'middle', rotate: -90});
  txt(g, 851, 2497, 'No. of sgRNAs sampled from bin', {size: 19, anchor: 'middle'});
  txt(g, 959, 2277, 'Bin', {size: 19, anchor: 'middle', fill: '#222'});
  jBins.forEach((b, i) => {
    const yy = 2300 + i * 30;
    const ln = g.append('line').attr('x1', 924).attr('x2', 968).attr('y1', yy).attr('y2', yy).attr('stroke', binColors[i]).attr('stroke-width', 2.4);
    if (i === 0 || i === 4) ln.attr('stroke-dasharray', '4,3');
    txt(g, 985, yy + 7, b, {size: 19, fill: '#222'});
  });
})();

// ----- Panel m -----
(function(){
  const g = svg.append('g');
  const x = d3.scaleLinear().domain([0, 6]).range([1184, 1519]);
  const y = d3.scaleLinear().domain([0, 1.055]).range([2450, 2103]);
  [[0.95], [0]].forEach(([v]) => {
    g.append('line').attr('x1', x(0)).attr('x2', x(6)).attr('y1', y(v)).attr('y2', y(v)).attr('stroke', '#999').attr('stroke-width', 4.5);
    g.append('line').attr('x1', x(0)).attr('x2', x(6)).attr('y1', y(v)).attr('y2', y(v)).attr('stroke', '#333').attr('stroke-width', 1.2);
  });
  txt(g, 1521, 2145, '95%', {size: 16, fill: '#222'});
  g.append('path').attr('d', d3.line().x((d, i) => x(mN[i])).y(d => y(d))(mProb)).attr('fill', 'none').attr('stroke', binColors[2]).attr('stroke-width', 2.4);
  arrowUp(g, x(3), 2173, y(mProb[3]) + 5, '#111', 4, 11);
  txt(g, x(3), 2195, '3 sgRNAs', {size: 15, anchor: 'middle', fill: '#222'});
  const ax = g.append('g').attr('transform', 'translate(0,2450)').call(d3.axisBottom(x).tickValues(mN).tickFormat(d3.format('d')).tickSize(5).tickPadding(3).tickSizeOuter(0)).call(styleAxis, 19);
  ax.select('.domain').remove();
  g.append('g').attr('transform', 'translate(1184,0)').call(d3.axisLeft(y).tickValues([0,0.2,0.4,0.6,0.8,1]).tickFormat(d3.format('.1f')).tickSize(5).tickPadding(2).tickSizeOuter(0)).call(styleAxis, 19);
  txt(g, 1366, 2084, 'Sampling from bin 2 only', {size: 18, anchor: 'middle', fill: '#222'});
  txt(g, 1137, 2287, 'Probability at least 1 with activity 0.1\u22120.9', {size: 19, anchor: 'middle', rotate: -90});
  txt(g, 1351, 2497, 'No. of sgRNAs sampled from bin 2', {size: 19, anchor: 'middle'});
})();
</script>
</body></html>
